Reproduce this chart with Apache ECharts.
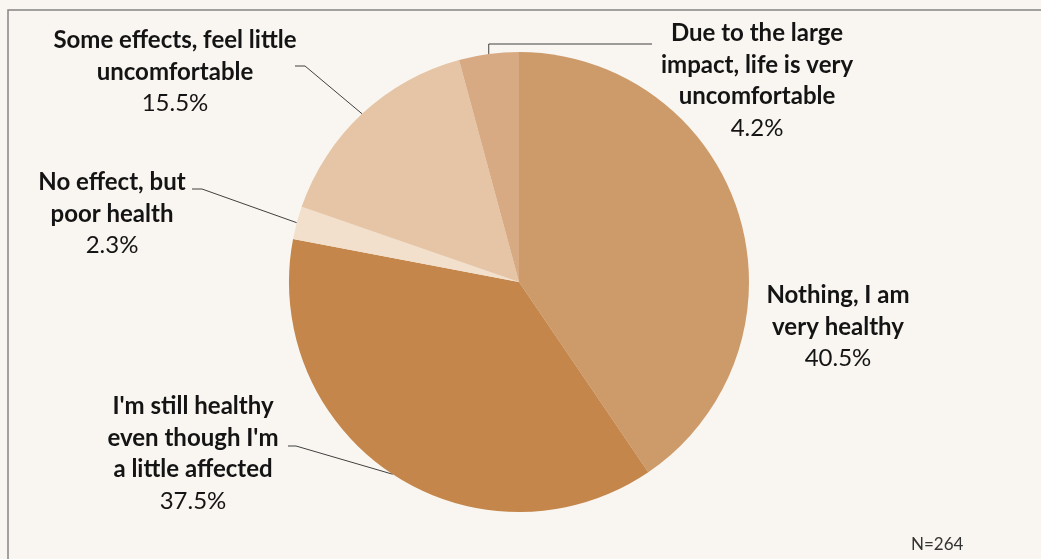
<!DOCTYPE html>
<html>
<head>
<meta charset="utf-8">
<style>
  html, body { margin: 0; padding: 0; background: #f9f6f1; }
  #chart { width: 1041px; height: 559px; }
</style>
<script src="https://cdn.jsdelivr.net/npm/echarts@6/dist/echarts.min.js"></script>
</head>
<body>
<div id="chart"></div>
<script>
// Survey answers, clockwise from 12 o'clock
const categories = [
  'Nothing, I am\nvery healthy',
  "I'm still healthy\neven though I'm\na little affected",
  'No effect, but\npoor health',
  'Some effects, feel little\nuncomfortable',
  'Due to the large\nimpact, life is very\nuncomfortable'
];
const shares = [40.5, 37.5, 2.3, 15.5, 4.2];
const sampleNote = 'N=264';

const sliceColors = ['#cd9a6a', '#c4864a', '#f2dfcc', '#e5c5a5', '#d8aa83'];

// Label block centres (px). `tip` is where the leader line meets the label,
// relative to the centre; `elbow` is the short horizontal run next to it
// ('h'), or a vertical drop from the slice followed by a horizontal run ('v').
const labelAnchors = [
  { x: 838, y: 327 },
  { x: 193, y: 454, tip: [95, -8], elbow: 'h', run: 8 },
  { x: 112, y: 214, tip: [80, -25], elbow: 'h', run: 10 },
  { x: 175, y: 72, tip: [120, -6], elbow: 'h', run: 10 },
  { x: 757, y: 81, tip: [-105, -37], elbow: 'v' }
];

const FONT = 'Lato, "Open Sans", sans-serif';

const chart = echarts.init(document.getElementById('chart'), null, { renderer: 'canvas' });

const data = categories.map((name, i) => ({
  name,
  value: shares[i],
  itemStyle: { color: sliceColors[i] },
  labelLine: { show: !!labelAnchors[i].tip }
}));

function leaderPoints(params) {
  const a = labelAnchors[params.dataIndex];
  const pts = params.labelLinePoints;
  if (!a.tip || !pts) return undefined;
  const edge = pts[0];                       // point on the slice's rim
  const end = [a.x + a.tip[0], a.y + a.tip[1]];
  let bend;
  if (a.elbow === 'v') {
    bend = [edge[0], end[1]];
  } else {
    const dir = edge[0] > end[0] ? 1 : -1;
    bend = [end[0] + dir * a.run, end[1]];
  }
  return [edge, bend, end];
}

chart.setOption({
  backgroundColor: '#f9f6f1',
  animation: false,
  graphic: [
    {
      type: 'rect',
      shape: { x: 8, y: 10, width: 1100, height: 600 },
      style: { fill: null, stroke: '#858585', lineWidth: 1.5 },
      silent: true
    },
    {
      type: 'text',
      left: 911,
      top: 536,
      style: { text: sampleNote, font: '17px ' + FONT, fill: '#333333' }
    }
  ],
  series: [{
    type: 'pie',
    center: [519, 282],
    radius: 230,
    startAngle: 90,
    clockwise: true,
    avoidLabelOverlap: false,
    data,
    itemStyle: { borderWidth: 0 },
    label: {
      show: true,
      position: 'outside',
      align: 'center',
      formatter: p => p.name.split('\n').map(s => '{n|' + s + '}').join('\n') +
        '\n{v|' + p.value.toFixed(1) + '%}',
      rich: {
        n: { fontFamily: FONT, fontWeight: 'bold', fontSize: 24, lineHeight: 31.5, color: '#141414', align: 'center' },
        v: { fontFamily: FONT, fontSize: 24, lineHeight: 31.5, color: '#141414', align: 'center' }
      }
    },
    labelLine: {
      show: true,
      length: 10,
      length2: 10,
      lineStyle: { color: '#404040', width: 1 }
    },
    labelLayout: p => ({
      x: labelAnchors[p.dataIndex].x,
      y: labelAnchors[p.dataIndex].y,
      align: 'center',
      verticalAlign: 'middle',
      labelLinePoints: leaderPoints(p)
    })
  }]
});
</script>
</body>
</html>
